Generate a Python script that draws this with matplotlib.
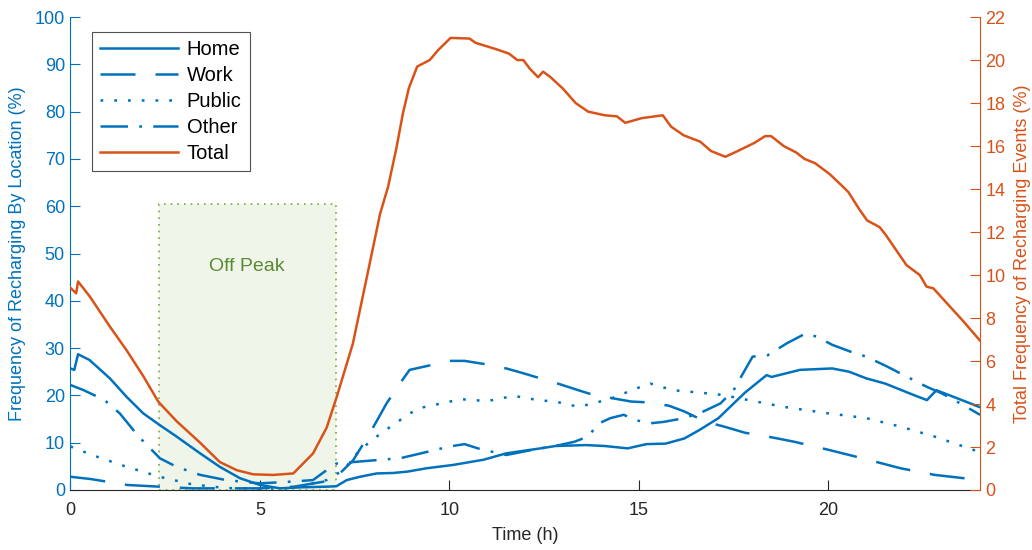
import matplotlib
matplotlib.use("Agg")
import matplotlib.pyplot as plt
from matplotlib.patches import Rectangle

plt.rcParams['font.family'] = ['Liberation Sans', 'DejaVu Sans']

BLUE = '#0072BD'
ORANGE = '#D95319'

# ---- data (hours, percent) ----
home_t = [0, 0.1, 0.2, 0.5, 1.04, 1.48, 1.92, 2.36, 2.8, 3.42, 3.94, 4.47, 5.0, 5.53, 6.06, 6.76, 7.02, 7.29,
          7.64, 8.08, 8.52, 8.9, 9.4, 10.1, 10.9, 11.5, 12.4, 12.8, 13.6, 14.1, 14.7, 15.2, 15.7, 16.2, 16.6,
          17.1, 17.5, 17.8, 18.37, 18.5, 19.25, 20.1, 20.55, 21.0, 21.5, 22.15, 22.6, 22.85, 23.3, 24.0]
home_v = [25.7, 25.4, 28.7, 27.5, 23.6, 19.7, 16.2, 13.7, 11.3, 7.75, 4.9, 2.5, 1.06, 0.35, 0.56, 0.7, 0.8, 2.1,
          2.8, 3.5, 3.6, 3.9, 4.6, 5.3, 6.4, 7.75, 8.8, 9.3, 9.5, 9.3, 8.8, 9.7, 9.8, 10.9, 12.7,
          15.2, 18.3, 20.6, 24.3, 23.9, 25.4, 25.7, 25.0, 23.6, 22.5, 20.4, 19.0, 21.1, 19.7, 17.5]

work_t = [0, 0.55, 1.5, 2.35, 3.2, 5.0, 5.9, 6.93, 7.46, 7.9, 8.34, 8.69, 8.95, 9.4, 10.0, 10.4, 10.95, 11.5,
          11.9, 12.4, 12.9, 13.4, 13.8, 14.3, 14.8, 15.3, 15.8, 16.2, 16.77, 17.25, 17.8, 18.4, 19.1, 20.0,
          20.9, 21.9, 22.8, 24.0]
work_v = [2.8, 2.3, 1.06, 0.7, 0.35, 0.35, 0.7, 2.1, 6.3, 12.0, 18.3, 22.5, 25.4, 26.2, 27.3, 27.3, 26.6, 25.7,
          24.8, 23.6, 22.4, 21.1, 20.1, 19.4, 18.7, 18.5, 17.8, 16.6, 14.4, 13.4, 12.1, 11.3, 10.2, 8.5,
          6.7, 4.6, 3.2, 2.1]

public_t = [0, 0.57, 1.48, 2.35, 3.2, 4.1, 5.0, 5.9, 6.76, 7.2, 7.64, 8.08, 8.5, 8.96, 9.2, 9.9, 10.3, 11.0,
            11.7, 12.2, 12.9, 13.4, 13.8, 14.4, 14.8, 15.3, 15.9, 16.6, 17.2, 17.9, 18.8, 20.0, 21.0, 21.9,
            22.8, 24.0]
public_v = [9.2, 7.4, 4.9, 2.8, 1.2, 0.4, 0.3, 0.4, 2.1, 4.2, 8.5, 11.3, 13.7, 16.2, 17.3, 18.5, 19.2, 18.8,
            19.9, 19.2, 18.5, 17.6, 18.3, 19.7, 21.1, 22.5, 21.1, 20.6, 20.1, 19.0, 17.6, 16.2, 15.2, 13.4,
            11.3, 8.0]

other_t = [0, 0.35, 0.9, 1.3, 1.8, 2.36, 2.8, 3.42, 4.1, 5.0, 5.9, 6.4, 6.76, 7.02, 7.6, 8.2, 8.69, 9.25,
           10.0, 10.4, 10.75, 11.3, 11.5, 12.2, 12.9, 13.3, 13.65, 13.95, 14.25, 14.6, 14.9, 15.3, 15.65,
           16.2, 16.7, 17.15, 17.5, 17.75, 18.0, 18.4, 18.9, 19.4, 19.7, 20.1, 20.6, 21.0, 21.55, 22.06,
           22.6, 23.0, 23.55, 24.0]
other_v = [22.2, 21.1, 19.0, 16.2, 11.3, 6.7, 4.9, 3.2, 2.1, 1.4, 1.8, 2.1, 4.2, 5.6, 6.0, 6.4, 6.7, 7.75,
           9.2, 9.7, 8.8, 7.75, 7.4, 8.5, 9.5, 10.2, 11.3, 14.1, 15.2, 15.9, 14.8, 14.1, 14.4,
           15.2, 16.6, 18.3, 21.1, 24.7, 28.2, 28.5, 31.0, 33.1, 32.4, 30.7, 29.2, 28.2, 26.1, 24.0,
           21.8, 20.4, 18.0, 15.9]

total_t = [0, 0.15, 0.2, 0.51, 1.04, 1.48, 1.92, 2.32, 2.8, 3.42, 3.94, 4.39, 4.82, 5.35, 5.88, 6.4, 6.76,
           7.02, 7.45, 7.82, 8.17, 8.38, 8.6, 8.77, 8.93, 9.15, 9.48, 9.7, 10.03, 10.53, 10.69, 11.24, 11.57,
           11.79, 11.95, 12.12, 12.34, 12.47, 12.67, 13.0, 13.33, 13.66, 14.1, 14.42, 14.64, 15.08, 15.63,
           15.85, 16.18, 16.62, 16.9, 17.28, 17.61, 18.05, 18.33, 18.49, 18.82, 19.15, 19.37, 19.65, 20.03,
           20.36, 20.53, 20.8, 21.02, 21.35, 21.52, 22.06, 22.41, 22.59, 22.77, 23.12, 23.56, 24.0]
total_v = [9.4, 9.15, 9.7, 9.0, 7.6, 6.5, 5.3, 4.1, 3.2, 2.2, 1.3, 0.92, 0.73, 0.7, 0.77, 1.7, 2.9,
           4.3, 6.8, 9.9, 12.85, 14.1, 15.9, 17.5, 18.7, 19.7, 20.0, 20.46, 21.03, 21.0, 20.8, 20.5, 20.3,
           20.0, 20.0, 19.6, 19.2, 19.46, 19.2, 18.66, 18.0, 17.6, 17.43, 17.38, 17.08, 17.3, 17.43,
           16.9, 16.5, 16.2, 15.77, 15.5, 15.77, 16.15, 16.46, 16.46, 16.0, 15.7, 15.4, 15.2, 14.7,
           14.15, 13.85, 13.1, 12.54, 12.23, 11.85, 10.46, 10.0, 9.46, 9.38, 8.7, 7.85, 6.95]

offpeak_start, offpeak_end, offpeak_height = 2.33, 7.0, 60.5

x_ticks = [0, 5, 10, 15, 20]
left_ticks = list(range(0, 101, 10))
right_ticks = list(range(0, 23, 2))

# ---- figure ----
fig = plt.figure(figsize=(10.32, 5.5), dpi=100)
ax = fig.add_axes([0.0683, 0.1091, 0.8813, 0.8599])
ax2 = ax.twinx()

FS = 13
LFS = 14.5
LW = 1.8

ax.add_patch(Rectangle((offpeak_start, 0), offpeak_end - offpeak_start, offpeak_height,
                       facecolor='#eff5e8', edgecolor='#77AC30', linestyle=(0, (1, 3)),
                       linewidth=1.2, zorder=0))
ax.text((offpeak_start + offpeak_end) / 2, 47.3, 'Off Peak', color='#5b8a34', fontsize=14,
        ha='center', va='center')

l1, = ax.plot(home_t, home_v, color=BLUE, lw=LW, linestyle='-', label='Home')
l2, = ax.plot(work_t, work_v, color=BLUE, lw=LW, linestyle=(0, (14, 8)), label='Work')
l3, = ax.plot(public_t, public_v, color=BLUE, lw=LW, linestyle=(0, (1.1, 4.4)), label='Public')
l4, = ax.plot(other_t, other_v, color=BLUE, lw=LW, linestyle=(0, (11, 4.5, 1.1, 4.5)), label='Other')
l5, = ax2.plot(total_t, total_v, color=ORANGE, lw=LW, linestyle='-', label='Total')

ax.set_xlim(0, 24)
ax.set_ylim(0, 100)
ax2.set_ylim(0, 22)
ax.set_xticks(x_ticks)
ax.set_yticks(left_ticks)
ax2.set_yticks(right_ticks)

ax.set_xlabel('Time (h)', fontsize=FS, color='#262626', labelpad=6)
ax.set_ylabel('Frequency of Recharging By Location (%)', fontsize=FS, color=BLUE, labelpad=6)
ax2.set_ylabel('Total Frequency of Recharging Events (%)', fontsize=FS, color=ORANGE, labelpad=6)

for a in (ax, ax2):
    a.spines['top'].set_visible(False)
ax.spines['left'].set_color(BLUE)
ax.spines['bottom'].set_color('#262626')
ax.spines['right'].set_visible(False)
ax2.spines['left'].set_visible(False)
ax2.spines['bottom'].set_visible(False)
ax2.spines['right'].set_color(ORANGE)

ax.tick_params(axis='x', direction='in', length=7, colors='#262626', labelsize=FS, pad=8.5)
ax.tick_params(axis='y', direction='in', length=7, colors=BLUE, labelsize=FS, pad=4)
ax2.tick_params(axis='y', direction='in', length=7, colors=ORANGE, labelsize=FS, pad=4)

leg = ax2.legend(handles=[l1, l2, l3, l4, l5], loc='upper left', bbox_to_anchor=(0.0236, 0.968),
                 borderaxespad=0, fontsize=LFS, frameon=True, fancybox=False, edgecolor='#262626',
                 handlelength=3.85, handletextpad=0.45, labelspacing=0.35, borderpad=0.4)
leg.get_frame().set_linewidth(0.8)

fig.savefig('out.png', dpi=100)
